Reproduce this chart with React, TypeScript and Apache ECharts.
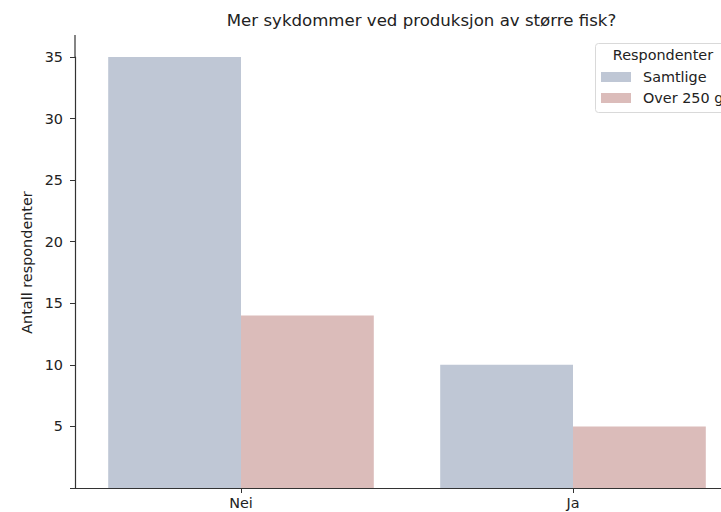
import React, { useEffect, useRef } from "react";
import * as echarts from "echarts";

const categories = ["Nei", "Ja"];
const seriesNames = ["Samtlige", "Over 250 g"];
const samtlige = [35, 10];
const over250 = [14, 5];
const colors = ["#bfc7d5", "#dbbcba"];
const titleText = "Mer sykdommer ved produksjon av større fisk?";
const yName = "Antall respondenter";
const legendTitle = "Respondenter";

const FONT = "DejaVu Sans";
const FS = 14.4;

export default function App() {
  const ref = useRef<HTMLDivElement>(null);
  useEffect(() => {
    document.body.style.margin = "0";
    const chart = echarts.init(ref.current!, null, { renderer: "svg" });
    chart.setOption({
      animation: false,
      backgroundColor: "#ffffff",
      textStyle: { fontFamily: FONT },
      grid: {
        left: 75,
        width: 664,
        top: 57,
        height: 431,
        containLabel: false,
        outerBoundsMode: "none",
      },
      xAxis: {
        type: "category",
        data: categories,
        axisLine: { show: true, lineStyle: { color: "#333", width: 1.2 } },
        axisTick: { show: true, alignWithLabel: true, length: 5, lineStyle: { color: "#333" } },
        axisLabel: { color: "#222", fontSize: FS, fontFamily: FONT, margin: 8 },
      },
      yAxis: {
        type: "value",
        min: 0,
        max: 35,
        interval: 5,
        name: yName,
        nameLocation: "middle",
        nameGap: 40,
        nameTextStyle: { color: "#222", fontSize: FS, fontFamily: FONT, padding: [0, 0, 0, 20] },
        axisLine: { show: true, lineStyle: { color: "#333", width: 1.2 } },
        axisTick: { show: true, length: 5, lineStyle: { color: "#333" } },
        axisLabel: {
          color: "#222",
          fontSize: FS,
          fontFamily: FONT,
          margin: 12,
          formatter: (v: number) => (v === 0 ? "" : String(v)),
        },
        splitLine: { show: false },
      },
      legend: {
        orient: "vertical",
        left: 601,
        top: 69,
        padding: 0,
        itemWidth: 30,
        itemHeight: 10,
        itemGap: 5,
        icon: "rect",
        data: seriesNames,
        textStyle: { color: "#222", fontSize: FS, fontFamily: FONT, lineHeight: 16, padding: [0, 0, 0, 7] },
      },
      graphic: [
        {
          type: "rect",
          z: -1,
          shape: { x: 595.5, y: 43.5, width: 150, height: 69, r: 3 },
          style: { fill: "#ffffff", stroke: "#d9d9d9", lineWidth: 1 },
        },
        {
          type: "text",
          x: 663,
          y: 55,
          style: {
            text: legendTitle,
            fill: "#222",
            font: `${FS}px '${FONT}'`,
            textAlign: "center",
            textVerticalAlign: "middle",
          },
        },
        {
          type: "text",
          x: 421.5,
          y: 20,
          style: {
            text: titleText,
            fill: "#222",
            font: `16.6px '${FONT}'`,
            textAlign: "center",
            textVerticalAlign: "middle",
          },
        },
        {
          type: "line",
          shape: { x1: 75, y1: 35, x2: 75, y2: 57 },
          style: { stroke: "#333", lineWidth: 1.2 },
        },
      ],
      series: [
        {
          name: seriesNames[0],
          type: "bar",
          data: samtlige,
          itemStyle: { color: colors[0] },
          barGap: "0%",
          barCategoryGap: "20%",
        },
        {
          name: seriesNames[1],
          type: "bar",
          data: over250,
          itemStyle: { color: colors[1] },
          barGap: "0%",
          barCategoryGap: "20%",
        },
      ],
    });
    return () => chart.dispose();
  }, []);
  return <div ref={ref} style={{ width: 721, height: 512 }} />;
}
